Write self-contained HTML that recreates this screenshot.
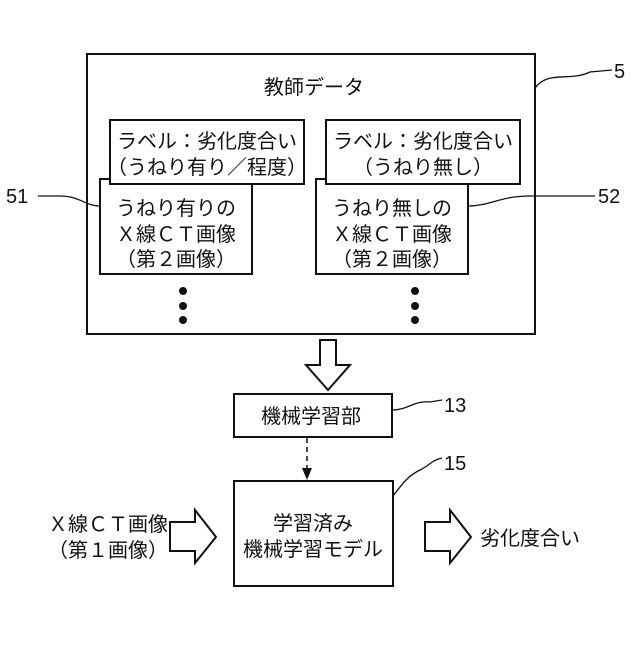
<!DOCTYPE html>
<html><head><meta charset="utf-8"><style>
body{margin:0;background:#fff}
svg text{font-family:"Liberation Sans","Noto Sans CJK JP",sans-serif;font-size:20px;fill:#111}
svg text.n{font-family:"Liberation Sans Narrow","Liberation Sans",sans-serif;font-size:20px}
</style></head><body>
<svg width="640" height="640" viewBox="0 0 640 640" xmlns="http://www.w3.org/2000/svg">
<g fill="#fff" stroke="#111" stroke-width="2">
<rect x="87" y="54" width="448" height="280"/>
<rect x="100" y="179" width="152" height="95"/>
<rect x="110" y="120" width="194" height="64"/>
<rect x="316" y="179" width="152" height="95"/>
<rect x="326" y="120" width="194" height="64"/>
<rect x="234" y="394" width="158" height="43"/>
<rect x="234" y="481" width="159" height="105"/>
<polygon points="320,340 336,340 336,365 350,365 328,390 306,365 320,365"/>
<polygon points="170,522 195,522 195,510 216,537 195,563 195,551 170,551"/>
<polygon points="425,522 450,522 450,510 471,537 450,563 450,551 425,551"/>
</g>
<g fill="none" stroke="#111" stroke-width="1.3">
<path d="M535,88 C548,70 570,82 590,72 L612,70"/>
<path d="M100,206 C85,206 80,196 60,196 L38,196"/>
<path d="M468,206 C490,206 500,196 530,196 L595,196"/>
<path d="M392,410 C408,410 415,400 430,402 L442,400"/>
<path d="M393,496 C405,480 410,475 420,470 C430,465 432,460 442,458"/>
</g>
<line x1="307" y1="438" x2="307" y2="470" stroke="#111" stroke-width="1.5" stroke-dasharray="5,4"/>
<polygon points="302,468 312,468 307,480" fill="#111"/>
<g fill="#111">
<circle cx="183" cy="291" r="4"/><circle cx="183" cy="306" r="4"/><circle cx="183" cy="320" r="4"/>
<circle cx="415" cy="291" r="4"/><circle cx="415" cy="306" r="4"/><circle cx="415" cy="320" r="4"/>
</g>
<g text-anchor="middle">
<text x="314" y="94">教師データ</text>
<text x="207" y="148">ラベル：劣化度合い</text>
<text x="207" y="174">（うねり有り／程度）</text>
<text x="423" y="148">ラベル：劣化度合い</text>
<text x="423" y="174">（うねり無し）</text>
<text x="176" y="215">うねり有りの</text>
<text x="176" y="241">Ｘ線ＣＴ画像</text>
<text x="176" y="266">（第２画像）</text>
<text x="392" y="215">うねり無しの</text>
<text x="392" y="241">Ｘ線ＣＴ画像</text>
<text x="392" y="266">（第２画像）</text>
<text x="311" y="423">機械学習部</text>
<text x="313" y="530">学習済み</text>
<text x="313" y="556">機械学習モデル</text>
<text x="108" y="531">Ｘ線ＣＴ画像</text>
<text x="108" y="557">（第１画像）</text>
</g>
<text x="480" y="545">劣化度合い</text>
<text class="n" x="614" y="78">5</text>
<text class="n" x="6" y="203">51</text>
<text class="n" x="598" y="203">52</text>
<text class="n" x="444" y="412">13</text>
<text class="n" x="444" y="470">15</text>
</svg>
</body></html>
